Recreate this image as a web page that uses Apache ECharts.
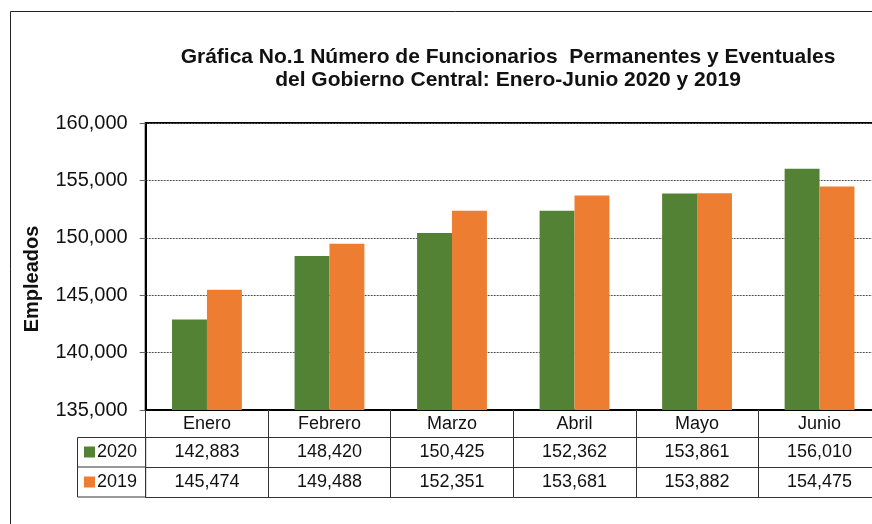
<!DOCTYPE html>
<html>
<head>
<meta charset="utf-8">
<script src="https://cdn.jsdelivr.net/npm/echarts@6/dist/echarts.min.js"></script>
<style>
html,body{margin:0;padding:0;background:#fff;overflow:hidden;}
#chart{width:900px;height:524px;}
</style>
</head>
<body>
<div id="chart"></div>
<script>
const categories = ['Enero', 'Febrero', 'Marzo', 'Abril', 'Mayo', 'Junio'];
const values2020 = [142883, 148420, 150425, 152362, 153861, 156010];
const values2019 = [145474, 149488, 152351, 153681, 153882, 154475];
const seriesNames = ['2020', '2019'];
const yTicks = { min: 135000, max: 160000, interval: 5000 };

const FONT = "'Liberation Sans', Arial, sans-serif";
const fmt = v => Number(v).toLocaleString('en-US');

const chart = echarts.init(document.getElementById('chart'), null, { renderer: 'canvas' });

const tableAxis = (offset, vals, showLabel) => ({
  type: 'category',
  data: categories,
  position: 'bottom',
  offset: offset,
  axisLine: { show: true, lineStyle: { color: '#333', width: 1 } },
  axisTick: { show: false },
  axisLabel: {
    show: showLabel,
    interval: 0,
    margin: 6,
    color: '#111',
    fontFamily: FONT,
    fontSize: 18,
    formatter: (v, i) => vals ? fmt(vals[i]) : ''
  },
  splitLine: { show: false }
});

const option = {
  backgroundColor: '#fff',
  animation: false,
  textStyle: { fontFamily: FONT },
  grid: {
    left: 145.7, top: 123, right: 19.2, bottom: 114,
    show: true, borderColor: '#000', borderWidth: 2, backgroundColor: 'transparent'
  },
  legend: {
    data: seriesNames,
    orient: 'vertical',
    left: 79,
    top: 438,
    itemWidth: 11,
    itemHeight: 11,
    itemGap: 12,
    icon: 'rect',
    textStyle: { fontFamily: FONT, fontSize: 18, color: '#111', padding: [0, 0, 0, -3] },
    selectedMode: false
  },
  xAxis: [
    {
      type: 'category',
      data: categories,
      position: 'bottom',
      axisLine: { show: true, lineStyle: { color: '#000', width: 2 } },
      axisTick: { show: true, interval: 0, length: 87, lineStyle: { color: '#333', width: 1 } },
      axisLabel: { interval: 0, margin: 5, color: '#111', fontFamily: FONT, fontSize: 18 },
      splitLine: { show: false }
    },
    tableAxis(27.5, values2020, true),
    tableAxis(57, values2019, true),
    tableAxis(87, null, false)
  ],
  yAxis: {
    type: 'value',
    min: yTicks.min,
    max: yTicks.max,
    interval: yTicks.interval,
    axisLine: { show: true, lineStyle: { color: '#000', width: 2 } },
    axisTick: { show: true, length: 6, lineStyle: { color: '#666', width: 1 } },
    axisLabel: { margin: 18, color: '#111', fontFamily: FONT, fontSize: 20, formatter: v => fmt(v) },
    splitLine: { show: true, lineStyle: { color: '#555', width: 1, type: [2, 1] } }
  },
  series: [
    {
      name: seriesNames[0], type: 'bar', data: values2020,
      itemStyle: { color: '#548235' },
      barGap: '0%', barCategoryGap: '43%'
    },
    {
      name: seriesNames[1], type: 'bar', data: values2019,
      itemStyle: { color: '#ED7D31' },
      barGap: '0%', barCategoryGap: '43%'
    }
  ],
  graphic: [
    {
      type: 'rect', silent: true, z: -1,
      shape: { x: 10.5, y: 11.5, width: 950, height: 600 },
      style: { fill: 'none', stroke: '#222', lineWidth: 1 }
    },
    {
      type: 'text', silent: true,
      style: {
        x: 508, y: 45.5,
        text: 'Gráfica No.1 Número de Funcionarios  Permanentes y Eventuales\ndel Gobierno Central: Enero-Junio 2020 y 2019',
        textAlign: 'center',
        font: "bold 21px 'Liberation Sans', Arial, sans-serif",
        lineHeight: 23,
        fill: '#111'
      }
    },
    {
      type: 'text', silent: true,
      x: 32, y: 279, rotation: Math.PI / 2,
      style: {
        x: 0, y: 0,
        text: 'Empleados',
        textAlign: 'center',
        textVerticalAlign: 'middle',
        font: "bold 20px 'Liberation Sans', Arial, sans-serif",
        fill: '#111'
      }
    },
    {
      type: 'rect', silent: true,
      shape: { x: 77.5, y: 437.5, width: 68.2, height: 59.5 },
      style: { fill: 'none', stroke: '#333', lineWidth: 1 }
    },
    {
      type: 'line', silent: true,
      shape: { x1: 77.5, y1: 467, x2: 145.7, y2: 467 },
      style: { stroke: '#333', lineWidth: 1 }
    }
  ]
};

chart.setOption(option);
</script>
</body>
</html>
